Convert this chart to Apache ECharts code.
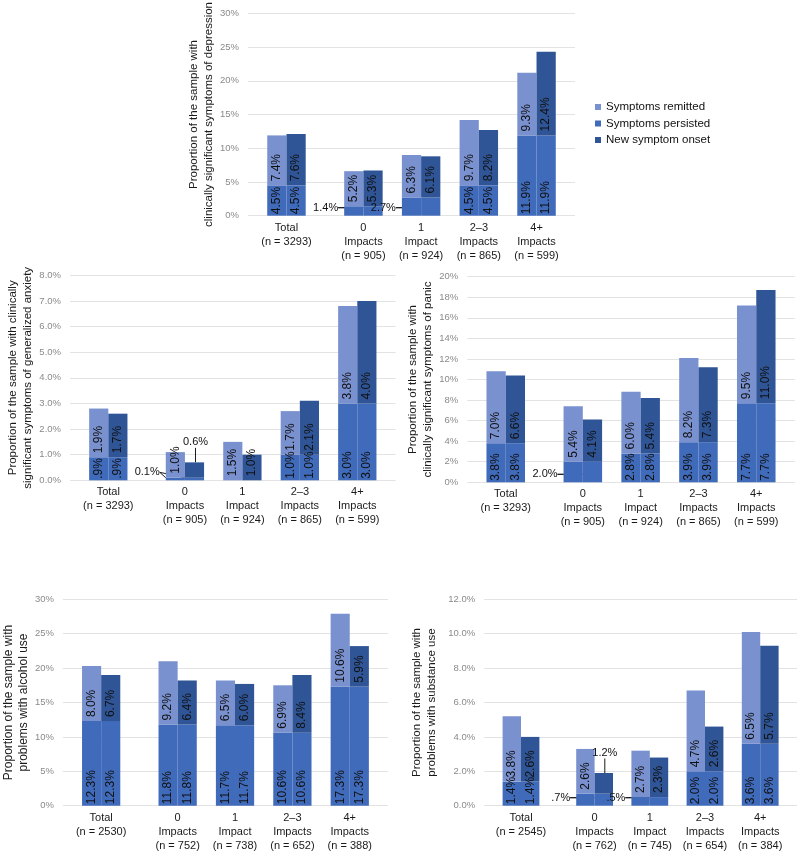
<!DOCTYPE html>
<html><head><meta charset="utf-8">
<script src="https://cdn.jsdelivr.net/npm/echarts@6/dist/echarts.min.js"></script>
<style>html,body{margin:0;padding:0;background:#fff}#c{width:800px;height:856px}</style>
</head><body><div id="c"></div>
<script>
// ---------- data ----------
const seriesNames = ['Symptoms remitted', 'Symptoms persisted', 'New symptom onset'];

const mhCategories = ['Total\n(n = 3293)', '0\nImpacts\n(n = 905)', '1\nImpact\n(n = 924)', '2–3\nImpacts\n(n = 865)', '4+\nImpacts\n(n = 599)'];
const alcCategories = ['Total\n(n = 2530)', '0\nImpacts\n(n = 752)', '1\nImpact\n(n = 738)', '2–3\nImpacts\n(n = 652)', '4+\nImpacts\n(n = 388)'];
const subCategories = ['Total\n(n = 2545)', '0\nImpacts\n(n = 762)', '1\nImpact\n(n = 745)', '2–3\nImpacts\n(n = 654)', '4+\nImpacts\n(n = 384)'];

const depPersisted = [4.5, 1.4, 2.7, 4.5, 11.9];
const depRemitted  = [7.4, 5.2, 6.3, 9.7, 9.3];
const depOnset     = [7.6, 5.3, 6.1, 8.2, 12.4];
const depTicks     = [0, 5, 10, 15, 20, 25, 30];

const anxPersisted = [0.9, 0.1, 0, 1.0, 3.0];
const anxPersistedText = ['.9%', '0.1%', '', '1.0%', '3.0%'];
const anxRemitted  = [1.9, 1.0, 1.5, 1.7, 3.8];
const anxOnset     = [1.7, 0.6, 1.0, 2.1, 4.0];
const anxTicks     = [0, 1, 2, 3, 4, 5, 6, 7, 8];

const panPersisted = [3.8, 2.0, 2.8, 3.9, 7.7];
const panRemitted  = [7.0, 5.4, 6.0, 8.2, 9.5];
const panOnset     = [6.6, 4.1, 5.4, 7.3, 11.0];
const panTicks     = [0, 2, 4, 6, 8, 10, 12, 14, 16, 18, 20];

const alcPersisted = [12.3, 11.8, 11.7, 10.6, 17.3];
const alcRemitted  = [8.0, 9.2, 6.5, 6.9, 10.6];
const alcOnset     = [6.7, 6.4, 6.0, 8.4, 5.9];
const alcTicks     = [0, 5, 10, 15, 20, 25, 30];

const subPersisted = [1.4, 0.7, 0.5, 2.0, 3.6];
const subPersistedText = ['1.4%', '.7%', '.5%', '2.0%', '3.6%'];
const subRemitted  = [3.8, 2.6, 2.7, 4.7, 6.5];
const subOnset     = [2.6, 1.2, 2.3, 2.6, 5.7];
const subTicks     = [0, 2, 4, 6, 8, 10, 12];

// ---------- layout ----------
const slotOf = [2, 6, 9, 12, 15];   // category slot positions on the axis
const nSlots = 18;
const colors = { remitted: '#7a91d0', persisted: '#406aba', onset: '#2f5597' };
const FONT = 'Liberation Sans, Arial, Helvetica, sans-serif';

const panels = [
  { grid: {left: 248, top: 10.7, width: 327, height: 205}, ticks: depTicks, dec: 0,
    name: 'Proportion of the sample with\nclinically significant symptoms of depression', nameGap: 24, nameSize: 11.5,
    cats: mhCategories, persisted: depPersisted, persistedText: null, remitted: depRemitted, onset: depOnset,
    movedLeft: [1, 2], movedUp: [] },
  { grid: {left: 70, top: 275.3, width: 325.6, height: 205}, ticks: anxTicks, dec: 1,
    name: 'Proportion of the sample with clinically\nsignificant symptoms of generalized anxiety', nameGap: 35, nameSize: 11.5,
    cats: mhCategories, persisted: anxPersisted, persistedText: anxPersistedText, remitted: anxRemitted, onset: anxOnset,
    movedLeft: [1], movedUp: [1] },
  { grid: {left: 467.2, top: 276.7, width: 327.6, height: 205.6}, ticks: panTicks, dec: 0,
    name: 'Proportion of the sample with\nclinically significant symptoms of panic', nameGap: 23, nameSize: 11.5,
    cats: mhCategories, persisted: panPersisted, persistedText: null, remitted: panRemitted, onset: panOnset,
    movedLeft: [1], movedUp: [] },
  { grid: {left: 60, top: 599.3, width: 328, height: 206.4}, ticks: alcTicks, dec: 0,
    name: 'Proportion of the sample with\nproblems with alcohol use', nameGap: 27, nameSize: 12,
    cats: alcCategories, persisted: alcPersisted, persistedText: null, remitted: alcRemitted, onset: alcOnset,
    movedLeft: [], movedUp: [] },
  { grid: {left: 484.2, top: 599.3, width: 321.3, height: 206.4}, ticks: subTicks, dec: 1,
    name: 'Proportion of the sample with\nproblems with substance use', nameGap: 45, nameSize: 11.5,
    cats: subCategories, persisted: subPersisted, persistedText: subPersistedText, remitted: subRemitted, onset: subOnset,
    movedLeft: [1, 2], movedUp: [1] }
];

const slotNames = Array.from({length: nSlots}, (_, i) => String(i));

function makeSeries(p, k, name, stackKey, vals, texts, color, movedLeft, movedUp, labelDist) {
  const data = new Array(nSlots).fill('-');
  vals.forEach((v, i) => {
    const moved = movedLeft.includes(i) || movedUp.includes(i);
    // the second copy of a moved "persisted" label sits on top of the first: draw only its leader line
    const hideText = moved && stackKey === 'b' && movedLeft.includes(i);
    data[slotOf[i]] = moved ? {
      value: v,
      label: { rotate: 0, fontSize: 11, align: 'center', verticalAlign: 'middle', color: hideText ? 'rgba(0,0,0,0)' : '#111' },
      labelLine: { show: true, smooth: false, lineStyle: { color: '#1a1a1a', width: 1 } }
    } : v;
  });
  return {
    type: 'bar', name: name, xAxisIndex: k, yAxisIndex: k, stack: 'p' + k + stackKey,
    barWidth: '100%', barGap: '0%', silent: true,
    itemStyle: { color: color },
    label: {
      show: true, position: 'insideBottom', distance: labelDist, rotate: 90,
      align: 'left', verticalAlign: 'middle', fontSize: 12, color: '#111', fontFamily: FONT,
      textBorderWidth: 0, textBorderColor: 'transparent', textShadowBlur: 0,
      formatter: function (prm) {
        const ci = slotOf.indexOf(prm.dataIndex);
        if (ci < 0) return '';
        if (texts) return texts[ci];
        const v = vals[ci];
        return v ? v.toFixed(1) + '%' : '';
      }
    },
    labelLayout: function (prm) {
      const ci = slotOf.indexOf(prm.dataIndex);
      if (ci < 0) return {};
      const r = prm.rect;
      if (movedLeft.includes(ci)) {
        const pairLeft = stackKey === 'a' ? r.x : r.x - r.width;
        const base = r.y + r.height;
        const ly = base - 8;
        return { x: pairLeft - 6, y: ly, rotate: 0, align: 'right', verticalAlign: 'middle',
          labelLinePoints: [[pairLeft - 5, ly], [pairLeft - 2, ly + 0.5], [r.x + r.width / 2, r.y + r.height / 2]] };
      }
      if (movedUp.includes(ci)) {
        const cx = r.x + r.width / 2;
        return { x: cx + 1, y: r.y - 20, rotate: 0, align: 'center', verticalAlign: 'middle',
          labelLinePoints: [[cx, r.y - 13], [cx, r.y - 6], [cx - 1, r.y + r.height * 0.3]] };
      }
      return {};
    },
    data: data
  };
}

const option = {
  animation: false,
  textStyle: { fontFamily: FONT },
  legend: {
    show: true, orient: 'vertical', left: 590, top: 96,
    itemWidth: 6, itemHeight: 6, itemGap: 4.5, icon: 'rect',
    data: seriesNames,
    textStyle: { fontSize: 11.5, color: '#111', fontFamily: FONT },
    selectedMode: false
  },
  grid: [], xAxis: [], yAxis: [], series: []
};

panels.forEach((p, k) => {
  option.grid.push(Object.assign({ containLabel: false }, p.grid));
  option.xAxis.push({
    gridIndex: k, type: 'category', data: slotNames, boundaryGap: false,
    axisTick: { show: false }, axisLine: { show: false }, splitLine: { show: false },
    axisLabel: {
      interval: 0, fontSize: 11, lineHeight: 14, color: '#1a1a1a', margin: 5, fontFamily: FONT,
      formatter: function (val, idx) { const ci = slotOf.indexOf(idx); return ci < 0 ? '' : p.cats[ci]; }
    }
  });
  const t = p.ticks;
  option.yAxis.push({
    gridIndex: k, type: 'value', min: t[0], max: t[t.length - 1], interval: t[1] - t[0],
    axisLine: { show: false }, axisTick: { show: false },
    splitLine: { lineStyle: { color: '#e3e3e3', width: 1 } },
    axisLabel: { color: '#8a8a8a', fontSize: 9.5, margin: 9, fontFamily: FONT,
      formatter: v => v.toFixed(p.dec) + '%' },
    name: p.name, nameLocation: 'middle', nameRotate: 90, nameGap: p.nameGap,
    nameTextStyle: { fontSize: p.nameSize, lineHeight: 15, color: '#1a1a1a', fontFamily: FONT }
  });
  option.series.push(makeSeries(p, k, seriesNames[1], 'a', p.persisted, p.persistedText, colors.persisted, p.movedLeft, [], 1.5));
  option.series.push(makeSeries(p, k, seriesNames[0], 'a', p.remitted, null, colors.remitted, [], [], 4));
  option.series.push(makeSeries(p, k, seriesNames[1], 'b', p.persisted, p.persistedText, colors.persisted, p.movedLeft, [], 1.5));
  option.series.push(makeSeries(p, k, seriesNames[2], 'b', p.onset, null, colors.onset, [], p.movedUp, 4));
});

const chart = echarts.init(document.getElementById('c'), null, { renderer: 'canvas' });
chart.setOption(option);
chart.setOption(option);
</script>
</body></html>
